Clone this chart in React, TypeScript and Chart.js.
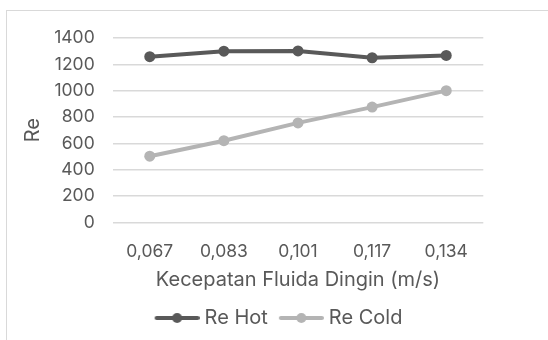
import React, { useEffect, useRef } from "react";
import { Chart, registerables } from "chart.js";

Chart.register(...registerables);

const categories = ["0,067", "0,083", "0,101", "0,117", "0,134"];
const reHot = [1258, 1300, 1302, 1250, 1268];
const reCold = [502, 620, 755, 875, 1000];
const seriesNames = ["Re Hot", "Re Cold"];
const yTicks = { min: 0, max: 1400, step: 200 };

const HOT = "#595959";
const COLD = "#b4b4b4";
const TEXT = "#595959";
const GRID = "#d9d9d9";
const FONT = "Inter, 'Open Sans', sans-serif";

function makeMarker(color: string) {
  const c = document.createElement("canvas");
  c.width = 51;
  c.height = 12;
  const ctx = c.getContext("2d")!;
  ctx.strokeStyle = color;
  ctx.lineWidth = 4;
  ctx.lineCap = "round";
  ctx.beginPath();
  ctx.moveTo(8, 6);
  ctx.lineTo(49, 6);
  ctx.stroke();
  ctx.fillStyle = color;
  ctx.beginPath();
  ctx.arc(28.5, 6, 5, 0, Math.PI * 2);
  ctx.fill();
  return c;
}

export default function App() {
  const ref = useRef<HTMLCanvasElement>(null);
  useEffect(() => {
    const markers = [makeMarker(HOT), makeMarker(COLD)];
    const chart = new Chart(ref.current!, {
      type: "line",
      data: {
        labels: categories,
        datasets: [
          {
            label: seriesNames[0],
            data: reHot,
            borderColor: HOT,
            backgroundColor: HOT,
            borderWidth: 4,
            pointRadius: 5.5,
            pointBackgroundColor: HOT,
            pointBorderWidth: 0,
            tension: 0,
          },
          {
            label: seriesNames[1],
            data: reCold,
            borderColor: COLD,
            backgroundColor: COLD,
            borderWidth: 4,
            pointRadius: 5.5,
            pointBackgroundColor: COLD,
            pointBorderWidth: 0,
            tension: 0,
          },
        ],
      },
      options: {
        animation: false,
        responsive: false,
        layout: { padding: { left: 8, right: 0, top: 38, bottom: 2 } },
        plugins: {
          tooltip: { enabled: false },
          legend: {
            position: "bottom",
            labels: {
              usePointStyle: true,
              pointStyleWidth: 41,
              padding: 10,
              color: TEXT,
              font: { family: FONT, size: 20 },
              generateLabels: (ch: any) =>
                ch.data.datasets.map((ds: any, i: number) => ({
                  text: ds.label,
                  fillStyle: ds.borderColor,
                  strokeStyle: ds.borderColor,
                  lineWidth: 0,
                  pointStyle: markers[i],
                  fontColor: TEXT,
                  hidden: false,
                  datasetIndex: i,
                })),
            },
          },
        },
        scales: {
          x: {
            type: "category",
            offset: true,
            grid: { display: false, drawTicks: false },
            border: { display: false },
            ticks: {
              color: TEXT,
              font: { family: FONT, size: 17.5 },
              padding: 19,
              maxRotation: 0,
            },
            title: {
              display: true,
              text: "Kecepatan Fluida Dingin (m/s)",
              color: TEXT,
              font: { family: FONT, size: 20 },
              padding: { top: 0, bottom: 6 },
            },
            afterFit: (s: any) => {
              s.height = 75.7;
            },
          },
          y: {
            min: yTicks.min,
            max: yTicks.max,
            grid: { color: GRID, lineWidth: 1.5, drawTicks: false },
            border: { display: false },
            ticks: {
              stepSize: yTicks.step,
              color: TEXT,
              font: { family: FONT, size: 17.5 },
              padding: 18,
              callback: (v: any) => String(v),
            },
            title: {
              display: true,
              text: "Re",
              color: TEXT,
              font: { family: FONT, size: 20 },
              padding: { top: 13, bottom: 0 },
            },
            afterFit: (s: any) => {
              s.width = 104.7;
            },
          },
          y2: {
            position: "right",
            min: 0,
            max: 1,
            grid: { display: false, drawTicks: false },
            border: { display: false },
            ticks: { display: false },
            afterFit: (s: any) => {
              s.width = 64.7;
            },
          },
        },
      },
    } as any);
    return () => chart.destroy();
  }, []);
  return (
    <div
      style={{
        position: "fixed",
        left: 0,
        top: 0,
        width: 548,
        height: 340,
        overflow: "hidden",
        background: "#fff",
      }}
    >
      <div
        style={{
          position: "absolute",
          left: 6,
          top: 10,
          width: 700,
          height: 500,
          border: "1.5px solid #d9d9d9",
        }}
      />
      <canvas
        ref={ref}
        width={548}
        height={340}
        style={{ position: "absolute", left: 0, top: 0, width: 548, height: 340 }}
      />
    </div>
  );
}
